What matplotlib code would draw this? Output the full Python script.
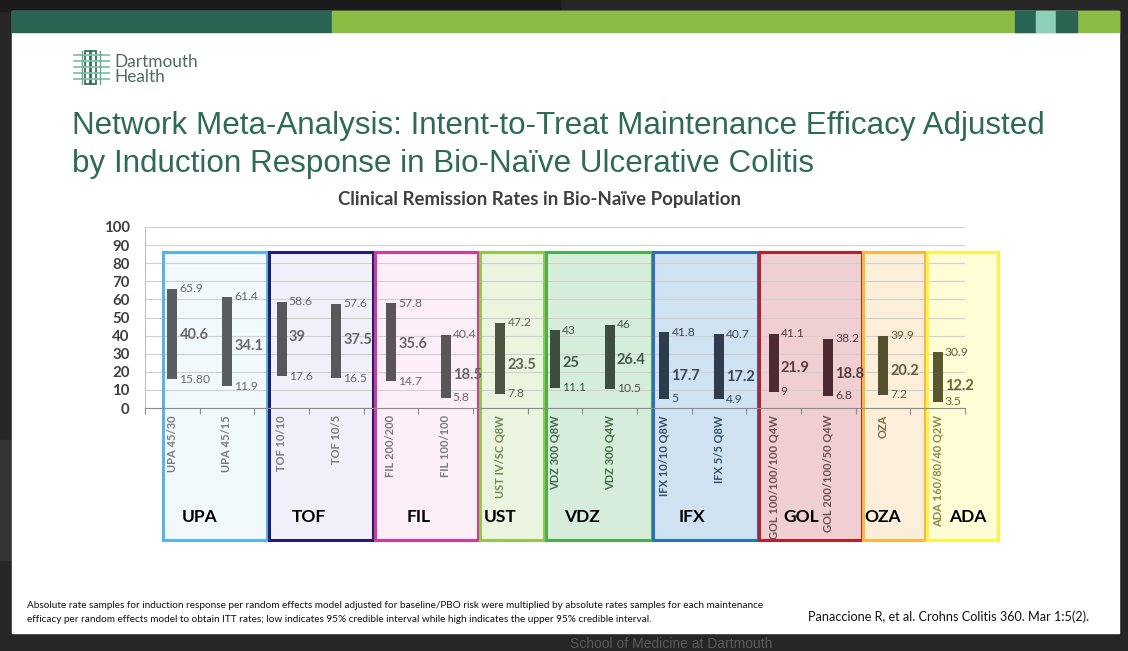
import numpy as np
import matplotlib
matplotlib.use("Agg")
import matplotlib.pyplot as plt
from matplotlib import font_manager
from matplotlib.patches import Rectangle

# ---- data ----
categories = ["UPA 45/30", "UPA 45/15", "TOF 10/10", "TOF 10/5", "FIL 200/200",
              "FIL 100/100", "UST IV/SC Q8W", "VDZ 300 Q8W", "VDZ 300 Q4W",
              "IFX 10/10 Q8W", "IFX 5/5 Q8W", "GOL 100/100/100 Q4W",
              "GOL 200/100/50 Q4W", "OZA", "ADA 160/80/40 Q2W"]
high = [65.9, 61.4, 58.6, 57.6, 57.8, 40.4, 47.2, 43, 46, 41.8, 40.7, 41.1, 38.2, 39.9, 30.9]
mean = [40.6, 34.1, 39, 37.5, 35.6, 18.5, 23.5, 25, 26.4, 17.7, 17.2, 21.9, 18.8, 20.2, 12.2]
low = [15.80, 11.9, 17.6, 16.5, 14.7, 5.8, 7.8, 11.1, 10.5, 5, 4.9, 9, 6.8, 7.2, 3.5]
low_labels = ["15.80", "11.9", "17.6", "16.5", "14.7", "5.8", "7.8", "11.1", "10.5",
              "5", "4.9", "9", "6.8", "7.2", "3.5"]

groups = ["UPA", "TOF", "FIL", "UST", "VDZ", "IFX", "GOL", "OZA", "ADA"]
group_sizes = [2, 2, 2, 1, 2, 2, 2, 1, 1]

# ---- styling ----
edge_colors = ["#5ab4e4", "#21206a", "#d2399b", "#95c653", "#4cae4f",
               "#2e6fb7", "#b5222a", "#f4b844", "#fdf24c"]
fill_colors = ["#f1f9fd", "#f2effa", "#fdeff8", "#eaf4de", "#d7eddb",
               "#d0e1f1", "#efcfd2", "#fcefd9", "#fefdd6"]
bar_colors = ["#5b5e60", "#59575d", "#5b5559", "#4c5541", "#3c4e3d",
              "#2f3c4d", "#4c2a31", "#56512f", "#5a5630"]
value_colors = ["#6a6a6a", "#676570", "#6b6468", "#5c6650", "#45574a",
                "#394658", "#5a3a3f", "#625c3c", "#66623c"]
tick_colors = ["#7a7a7a", "#7a7a7a", "#7a7a7a", "#6f8a52", "#3f6b47",
               "#35506e", "#6b5053", "#7a6a50", "#8a8a4a"]
# box boundaries in category units (boxes are slightly off the category grid)
box_edges = [-0.17, 1.77, 3.70, 5.63, 6.83, 8.80, 10.74, 12.64, 13.80, 15.13]
box_bottom, box_top = -73, 86
label_shift = {"ADA": 0.55}

W, H = 1128, 651
fig = plt.figure(figsize=(W / 100, H / 100), dpi=100)
fig.patch.set_facecolor("#262626")

available = {f.name for f in font_manager.fontManager.ttflist}
title_font = "Liberation Sans Narrow" if "Liberation Sans Narrow" in available else "Liberation Sans"
body_font = ["Lato", "DejaVu Sans"]

# background / slide layer in pixel coordinates
bg = fig.add_axes([0, 0, 1, 1])
bg.set_xlim(0, W)
bg.set_ylim(H, 0)
bg.axis("off")
bg.add_patch(Rectangle((0, 0), 560, 11, color="#1b1b1b"))
bg.add_patch(Rectangle((0, 440), 12, 120, color="#333333"))
bg.add_patch(Rectangle((12, 11), 1107, 622, color="white"))
bg.add_patch(Rectangle((12, 11), 320, 21, color="#2a6452"))
bg.add_patch(Rectangle((332, 11), 787, 21, color="#8bbd45"))
bg.add_patch(Rectangle((1015, 11), 21, 21, color="#2a6452"))
bg.add_patch(Rectangle((1036, 11), 20, 21, color="#8dd0b7"))
bg.add_patch(Rectangle((1056, 11), 21, 21, color="#2a6452"))
bg.text(570, 648, "School of Medicine at Dartmouth", color="#5a5a5a", fontsize=10,
        family="Liberation Sans", va="baseline")

# logo
for y in [55, 61, 67, 73, 79]:
    bg.plot([74, 109], [y, y], color="#7fc4ad", lw=1.3)
for x in [82, 100]:
    bg.plot([x, x], [51, 84], color="#6aa893", lw=1.0)
for x0 in [85, 91]:
    bg.add_patch(Rectangle((x0, 51), 5, 33, fill=False, ec="#2a6452", lw=1.2))

renderer = fig.canvas.get_renderer()


def fit_width(txt, width_px):
    w = txt.get_window_extent(renderer).width
    txt.set_fontsize(txt.get_fontsize() * width_px / w)
    return txt.get_fontsize()


t = bg.text(114, 67, "Dartmouth", color="#4e6b64", fontsize=12, family=body_font,
            va="baseline")
fs = fit_width(t, 83)
bg.text(114, 82, "Health", color="#4e6b64", fontsize=fs, family=body_font,
        va="baseline")

t1 = bg.text(72, 134, "Network Meta-Analysis: Intent-to-Treat Maintenance Efficacy Adjusted",
             color="#2e6a55", fontsize=24, family=title_font, va="baseline")
fs = fit_width(t1, 971)
bg.text(72, 172, "by Induction Response in Bio-Na\u00efve Ulcerative Colitis",
        color="#2e6a55", fontsize=fs, family=title_font, va="baseline")

t = bg.text(539.5, 200, "Clinical Remission Rates in Bio-Na\u00efve Population",
            color="#404040", fontsize=12, family=body_font, weight="bold",
            ha="center", va="center")
fit_width(t, 401)

t = bg.text(27, 606, "Absolute rate samples for induction response per random effects model "
            "adjusted for baseline/PBO risk were multiplied by absolute rates samples for each maintenance",
            color="#111111", fontsize=7, family=body_font, va="center")
fs = fit_width(t, 731)
bg.text(27, 620, "efficacy per random effects model to obtain ITT rates; low indicates 95% "
        "credible interval while high indicates the upper 95% credible interval.",
        color="#111111", fontsize=fs, family=body_font, va="center")
t = bg.text(808, 617, "Panaccione R, et al. Crohns Colitis 360. Mar 1:5(2).",
            color="#111111", fontsize=9, family=body_font, va="center")
fit_width(t, 282)

# ---- chart ----
ax = fig.add_axes([145 / W, (H - 408) / H, 820 / W, 181 / H])
ax.set_facecolor("none")
x = np.arange(len(categories))
ax.set_xlim(-0.5, len(categories) - 0.5)
ax.set_ylim(0, 100)

group_of = np.repeat(np.arange(len(groups)), group_sizes)
starts = np.concatenate([[0], np.cumsum(group_sizes)[:-1]])

for g, name in enumerate(groups):
    x0, x1 = box_edges[g], box_edges[g + 1] - 0.03
    ax.add_patch(Rectangle((x0, box_bottom), x1 - x0, box_top - box_bottom,
                           facecolor=fill_colors[g], edgecolor="none",
                           clip_on=False, zorder=0.6))
    ax.add_patch(Rectangle((x0, box_bottom), x1 - x0, box_top - box_bottom,
                           facecolor="none", edgecolor=edge_colors[g], lw=2.2,
                           clip_on=False, zorder=1.5))
    cx = starts[g] + (group_sizes[g] - 1) / 2 + label_shift.get(name, 0)
    ax.text(cx, -60, name, ha="center", va="center", fontsize=12.5,
            weight="bold", color="black", family=body_font, zorder=3)

for yv in range(10, 101, 10):
    ax.axhline(yv, color="#d0d0d0", lw=0.8, zorder=1)

bar_c = [bar_colors[g] for g in group_of]
ax.bar(x, np.array(high) - np.array(low), bottom=low, width=0.18,
       color=bar_c, zorder=2)

for i in range(len(categories)):
    c = value_colors[group_of[i]]
    ax.text(x[i] + 0.13, high[i], f"{high[i]:g}", color=c, fontsize=8.7,
            family=body_font, va="center", ha="left", zorder=3)
    ax.text(x[i] + 0.13, mean[i], f"{mean[i]:g}", color=c, fontsize=10.5,
            family=body_font, weight="bold", va="center", ha="left", zorder=3)
    ax.text(x[i] + 0.13, low[i], low_labels[i], color=c, fontsize=8.7,
            family=body_font, va="center", ha="left", zorder=3)

ax.set_yticks(range(0, 101, 10))
ax.tick_params(axis="y", length=0, pad=11, labelsize=10.8, labelcolor="#404040")
for lab in ax.get_yticklabels():
    lab.set_fontweight("bold")
    lab.set_family(body_font)

ax.set_xticks(x)
ax.set_xticklabels(categories, rotation=90, fontsize=8, family=body_font,
                   weight="bold", va="top", ha="center")
for lab, g in zip(ax.get_xticklabels(), group_of):
    lab.set_color(tick_colors[g])
ax.tick_params(axis="x", which="major", length=0, pad=5)
ax.set_xticks(np.arange(-0.5, len(categories)), minor=True)
ax.tick_params(axis="x", which="minor", length=4, color="#8c8c8c", width=0.8)

for s in ["top", "right"]:
    ax.spines[s].set_visible(False)
ax.spines["bottom"].set_color("#8c8c8c")
ax.spines["left"].set_color("#bfbfbf")
ax.spines["bottom"].set_zorder(2.5)

fig.savefig("out.png", dpi=100, facecolor=fig.get_facecolor())
